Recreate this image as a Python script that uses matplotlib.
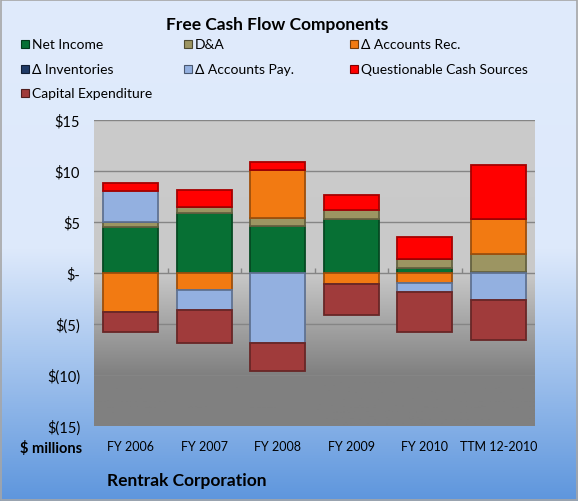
import numpy as np
import matplotlib
matplotlib.use("Agg")
import matplotlib.pyplot as plt
from matplotlib.patches import Rectangle
from matplotlib.colors import LinearSegmentedColormap, to_rgb
from matplotlib.ticker import FuncFormatter

plt.rcParams['font.family'] = ['Lato', 'DejaVu Sans']

periods = ["FY 2006", "FY 2007", "FY 2008", "FY 2009", "FY 2010", "TTM 12-2010"]
net_income = [4.5, 5.9, 4.6, 5.3, 0.45, 0.1]
dep_amort = [0.5, 0.55, 0.8, 0.9, 0.95, 1.75]
accounts_rec = [-3.8, -1.7, 4.7, -1.1, -1.0, 3.4]
inventories = [0, 0, 0, 0, 0, 0]
accounts_pay = [3.0, -1.9, -6.9, 0, -0.9, -2.6]
questionable = [0.85, 1.65, 0.8, 1.45, 2.1, 5.3]
capex = [-2.0, -3.3, -2.7, -3.0, -3.85, -3.95]

series = [
    ("Net Income", net_income, "#077034"),
    ("D&A", dep_amort, "#9c9562"),
    ("\u0394 Accounts Rec.", accounts_rec, "#f27a12"),
    ("\u0394 Inventories", inventories, "#1f3a66"),
    ("\u0394 Accounts Pay.", accounts_pay, "#93b0e0"),
    ("Questionable Cash Sources", questionable, "#ff0000"),
    ("Capital Expenditure", capex, "#a03b3b"),
]


def darker(c, f=0.65):
    r, g, b = to_rgb(c)
    return (r * f, g * f, b * f)


fig = plt.figure(figsize=(5.78, 5.02), dpi=100)

# figure background gradient
bg = fig.add_axes([0, 0, 1, 1], zorder=-10)
bg_cmap = LinearSegmentedColormap.from_list(
    "bg", [(0, "#e0ebfc"), (0.5, "#dde9fb"), (1, "#5e96dd")])
bg.imshow(np.linspace(0, 1, 256).reshape(-1, 1), cmap=bg_cmap, aspect="auto",
          extent=[0, 1, 0, 1], origin="upper")
bg.set_xlim(0, 1)
bg.set_ylim(0, 1)
bg.axis("off")
bg.add_patch(Rectangle((0.002, 0.002), 0.996, 0.996, fill=False,
                       edgecolor="#a6a6a6", lw=1.2))

ax = fig.add_axes([94 / 578, 75 / 502, 441 / 578, 306 / 502])
x = np.arange(len(periods))
ax.set_xlim(-0.5, len(periods) - 0.5)
ax.set_ylim(-15, 15)

# plot area gradient
plot_cmap = LinearSegmentedColormap.from_list(
    "plot", [(0, "#cbcbcb"), (0.5, "#c9c9c9"), (5 / 6, "#808080"), (1, "#808080")])
ax.imshow(np.linspace(0, 1, 256).reshape(-1, 1), cmap=plot_cmap, aspect="auto",
          extent=[-0.5, len(periods) - 0.5, -15, 15], origin="upper", zorder=0)

pos_bottom = np.zeros(len(periods))
neg_bottom = np.zeros(len(periods))
for name, vals, color in series:
    vals = np.array(vals, dtype=float)
    bottoms = np.where(vals >= 0, pos_bottom, neg_bottom)
    ax.bar(x, vals, 0.75, bottom=bottoms, color=color,
           edgecolor=darker(color), linewidth=1.3, zorder=3)
    pos_bottom += np.where(vals > 0, vals, 0)
    neg_bottom += np.where(vals < 0, vals, 0)

ax.set_yticks(np.arange(-15, 16, 5))


def money(v, pos):
    v = int(round(v))
    if v == 0:
        return "$-"
    if v < 0:
        return "$(%d)" % -v
    return "$%d" % v


ax.yaxis.set_major_formatter(FuncFormatter(money))
ax.grid(axis="y", color="#858585", lw=1, zorder=1)
ax.set_axisbelow(True)
ax.vlines(x[:-1] + 0.5, 0, 0.45, color="#858585", lw=1, zorder=2)
for s in ax.spines.values():
    s.set_visible(False)
ax.set_xticks(x)
ax.set_xticklabels(periods, fontsize=9)
ax.tick_params(axis="both", length=0)
ax.tick_params(axis="y", labelsize=10.5, pad=10)
ax.tick_params(axis="x", pad=10)

fig.text(0.48, 0.951, "Free Cash Flow Components", ha="center", va="center",
         fontsize=12.5, fontweight="bold")

# legend laid out in rows of three
col_x = [25, 188, 354]
row_y = [45, 70, 94]
for i, (name, vals, color) in enumerate(series):
    cx = col_x[i % 3]
    cy = row_y[i // 3]
    fig.patches.append(Rectangle(((cx - 4) / 578, 1 - (cy + 4) / 502), 8 / 578, 8 / 502,
                                 facecolor=color, edgecolor=darker(color, 0.5),
                                 lw=0.8, transform=fig.transFigure, figure=fig))
    fig.text((cx + 7) / 578, 1 - cy / 502, name, ha="left", va="center", fontsize=10)

fig.text(82 / 578, 1 - 449 / 502, "$ millions", ha="right", va="center",
         fontsize=10.5, fontweight="bold")
fig.text(107 / 578, 1 - 481 / 502, "Rentrak Corporation", ha="left", va="center",
         fontsize=12.5, fontweight="bold")

fig.savefig("out.png", dpi=100)
